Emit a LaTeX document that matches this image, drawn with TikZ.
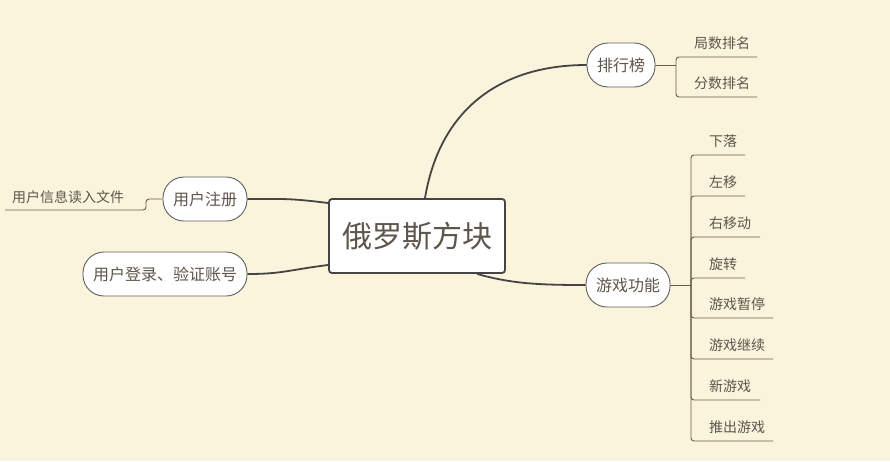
\documentclass[tikz,border=0pt]{standalone}
\usepackage{fontspec}
\setmainfont{Noto Sans CJK SC}
\usepackage{tikz}
\usetikzlibrary{positioning}
\definecolor{PaperCream}{HTML}{FAF4DD}
\definecolor{InkGray}{HTML}{444444}
\definecolor{TextBrown}{HTML}{5E554B}
\definecolor{TwigBrown}{HTML}{6B5B47}

\begin{document}
\begin{tikzpicture}[x=1pt, y=-1pt,
    mainbox/.style={draw=InkGray, line width=1.8pt, fill=white, rounded corners=3pt,
                    minimum width=176pt, minimum height=74pt, text=TextBrown, font=\fontsize{30}{32}\selectfont},
    topicbox/.style={draw=InkGray!85, line width=0.9pt, fill=white, rounded corners=21pt,
                     minimum height=44pt, inner xsep=10pt, text=TextBrown, font=\fontsize{16}{18}\selectfont},
    leaftext/.style={anchor=base west, inner sep=0pt, text=TextBrown, font=\fontsize{14}{16}\selectfont},
    trunkline/.style={draw=InkGray, line width=1.8pt},
    twigline/.style={draw=TwigBrown, line width=0.9pt, rounded corners=3pt}]
    \fill[PaperCream] (0,0) rectangle (890,461);
    \useasboundingbox (0,0) rectangle (890,461);

    % central topic and main branches
    \node[mainbox] (tetris) at (417,236) {俄罗斯方块};
    \node[topicbox] (rank) at (621,65) {排行榜};
    \node[topicbox] (game) at (628,285) {游戏功能};
    \node[topicbox] (reg) at (205,199) {用户注册};
    \node[topicbox] (login) at (165,274) {用户登录、验证账号};

    \draw[trunkline] ([xshift=8pt]tetris.north) .. controls +(15,-90) and +(-85,0) .. (rank.west);
    \draw[trunkline] ([xshift=60pt]tetris.south) .. controls +(35,10) and +(-45,0) .. (game.west);
    \draw[trunkline] ([yshift=33pt]tetris.west) .. controls +(-40,-5) and +(35,0) .. (reg.east);
    \draw[trunkline] ([yshift=-29pt]tetris.west) .. controls +(-40,5) and +(35,0) .. (login.east);

    % ranking leaves
    \coordinate (rh) at (676,65);
    \draw[twigline] (rank.east) -- (rh);
    \foreach \t/\y/\e [count=\i] in {局数排名/57/757, 分数排名/97/757}{
        \coordinate (re\i) at (\e,\y);
        \node[leaftext] (r\i) at (694,\y-8.5) {\t};
        \draw[twigline] (rh) |- (re\i);
    }

    % game leaves
    \coordinate (gh) at (691,285);
    \draw[twigline] (game.east) -- (gh);
    \foreach \t/\y/\e [count=\i] in {下落/155/745, 左移/196/745, 右移动/237/760, 旋转/278/745,
                                     游戏暂停/318/773, 游戏继续/359/773, 新游戏/400/760, 推出游戏/441/773}{
        \coordinate (ge\i) at (\e,\y);
        \node[leaftext] (g\i) at (709,\y-8.5) {\t};
        \draw[twigline] (gh) |- (ge\i);
    }

    % register leaf
    \coordinate (uh) at (146,199);
    \coordinate (ue) at (5,210);
    \node[leaftext] (u1) at (12,202) {用户信息读入文件};
    \draw[twigline] (reg.west) -- (uh) |- (ue);
\end{tikzpicture}
\end{document}
